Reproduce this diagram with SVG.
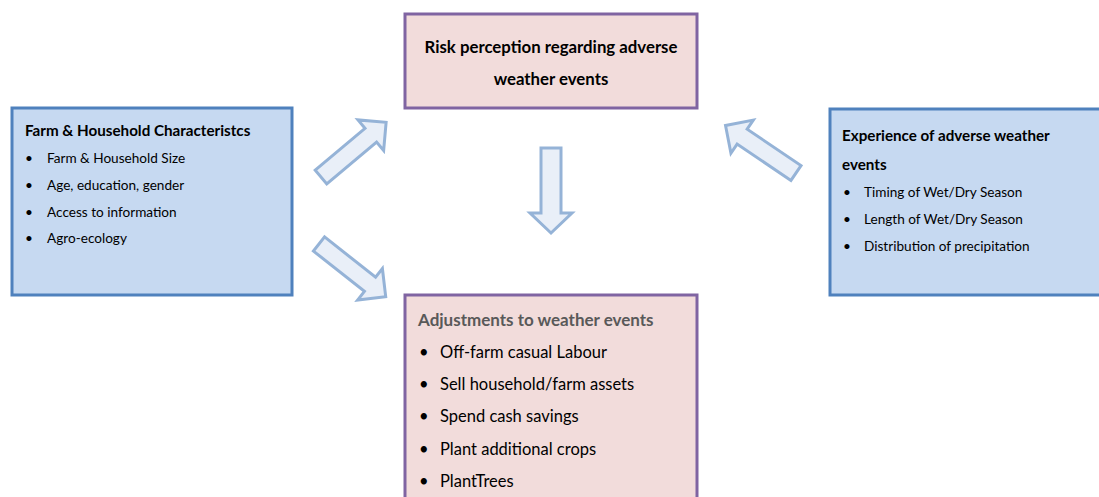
<svg xmlns="http://www.w3.org/2000/svg" width="1099" height="497" viewBox="0 0 1099 497">
  <style>
    .pink { fill: #f2dcdb; stroke: #8064a2; stroke-width: 3; }
    .blue { fill: #c6d9f1; stroke: #4f81bd; stroke-width: 3; }
    .flow { fill: #e9eff8; stroke: #95b3d7; stroke-width: 3; stroke-linejoin: miter; }
    text { font-family: Lato, "Open Sans", "Liberation Sans", sans-serif; fill: #000; }
    .ttl { font-weight: bold; font-size: 15.2px; }
    .head { font-weight: bold; font-size: 16.8px; }
    .itm { font-size: 13.6px; }
    .bttl { font-weight: bold; font-size: 17px; fill: #595959; }
    .bitm { font-size: 16.5px; }
  </style>
  <defs>
    <!-- block arrow pointing along +x, tail at origin -->
    <path id="blk" d="M0,-9 L65,-9 L65,-20 L85,0 L65,20 L65,9 L0,9 Z"/>
  </defs>
  <rect width="1099" height="497" fill="#ffffff"/>

  <g id="connectors">
    <use href="#blk" class="flow" transform="translate(321,177) rotate(-40)"/>
    <use href="#blk" class="flow" transform="translate(319,244) rotate(38.3)"/>
    <use href="#blk" class="flow" transform="translate(796,173) rotate(-146)"/>
    <path class="flow" d="M541,148 L561,148 L561,213 L572,213 L551,233 L530,213 L541,213 Z"/>
  </g>

  <g id="risk-perception">
    <rect class="pink" x="405" y="14" width="292" height="94"/>
    <text class="head" x="551" y="53" text-anchor="middle">Risk perception regarding adverse</text>
    <text class="head" x="551" y="85" text-anchor="middle">weather events</text>
  </g>

  <g id="farm-household">
    <rect class="blue" x="12" y="108" width="280" height="187"/>
    <text class="ttl" x="25" y="136">Farm &amp; Household Characteristcs</text>
    <text class="itm" x="25" y="163">•</text>
    <text class="itm" x="47" y="163">Farm &amp; Household Size</text>
    <text class="itm" x="25" y="190">•</text>
    <text class="itm" x="47" y="190">Age, education, gender</text>
    <text class="itm" x="25" y="217">•</text>
    <text class="itm" x="47" y="217">Access to information</text>
    <text class="itm" x="25" y="243">•</text>
    <text class="itm" x="47" y="243">Agro-ecology</text>
  </g>

  <g id="experience">
    <rect class="blue" x="830" y="109" width="280" height="186"/>
    <text class="ttl" x="842" y="141">Experience of adverse weather</text>
    <text class="ttl" x="842" y="170">events</text>
    <text class="itm" x="843" y="197">•</text>
    <text class="itm" x="864" y="197">Timing of Wet/Dry Season</text>
    <text class="itm" x="843" y="224">•</text>
    <text class="itm" x="864" y="224">Length of Wet/Dry Season</text>
    <text class="itm" x="843" y="251">•</text>
    <text class="itm" x="864" y="251">Distribution of precipitation</text>
  </g>

  <g id="adjustments">
    <rect class="pink" x="405" y="295" width="292" height="215"/>
    <text class="bttl" x="418" y="326">Adjustments to weather events</text>
    <text class="bitm" x="419" y="358">•</text>
    <text class="bitm" x="440" y="358">Off-farm casual Labour</text>
    <text class="bitm" x="419" y="390">•</text>
    <text class="bitm" x="440" y="390">Sell household/farm assets</text>
    <text class="bitm" x="419" y="422">•</text>
    <text class="bitm" x="440" y="422">Spend cash savings</text>
    <text class="bitm" x="419" y="455">•</text>
    <text class="bitm" x="440" y="455">Plant additional crops</text>
    <text class="bitm" x="419" y="487">•</text>
    <text class="bitm" x="440" y="487">PlantTrees</text>
  </g>
</svg>
